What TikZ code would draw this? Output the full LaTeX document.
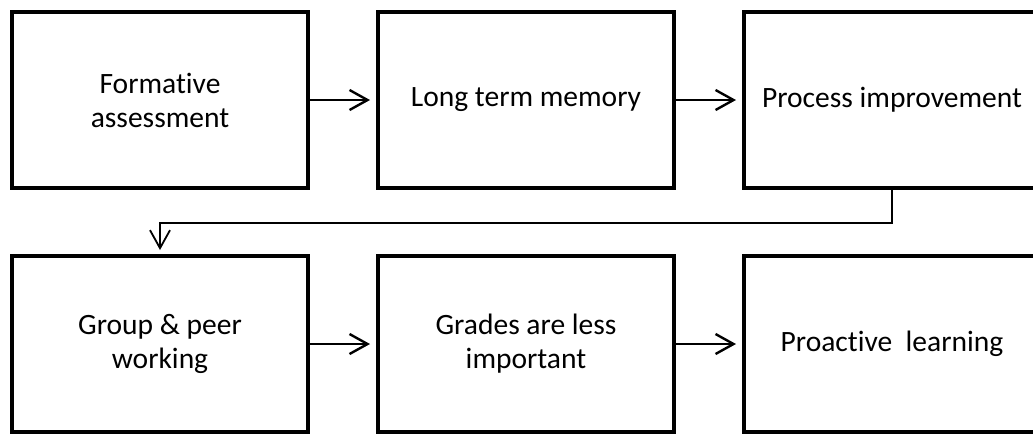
\documentclass[tikz,border=0pt]{standalone}
\usepackage{fontspec}
\setmainfont[Ligatures=NoCommon]{Carlito}
\usetikzlibrary{positioning, arrows.meta}

\begin{document}
\begin{tikzpicture}[>={Straight Barb[length=0.45cm, width=0.5cm]}, shorten >= 0.15cm, node distance = 1.6cm and 1.65cm,
    block/.style = {draw, line width=0.1cm, minimum width=7.4cm, minimum height=4.4cm, align=center,
                    font=\fontsize{21}{24.2}\selectfont},
    link/.style = {->, line width=0.06cm}]
            \useasboundingbox (0,0) rectangle (25.825,-10.9);
            \node[block] (form) at (4.0,-2.5) {Formative\\assessment};
            \node[block] (memory) [right = of form]  {Long term memory};
            \node[block] (process) [right = of memory]  {Process improvement};
            \node[block] (group) [below = of form]  {Group \& peer\\working};
            \node[block] (grades) [right = of group]  {Grades are less\\important};
            \node[block] (proactive) [right = of grades]  {Proactive\ \ learning};

            \path[link]
              (form) edge (memory)
              (memory) edge (process)
              (group) edge (grades)
              (grades) edge (proactive)
            ;
            \draw[link, line width=0.045cm, shorten >= 0.1cm] (process.south) -- ++(0,-0.825) -| (group.north);
          \end{tikzpicture}
\end{document}
